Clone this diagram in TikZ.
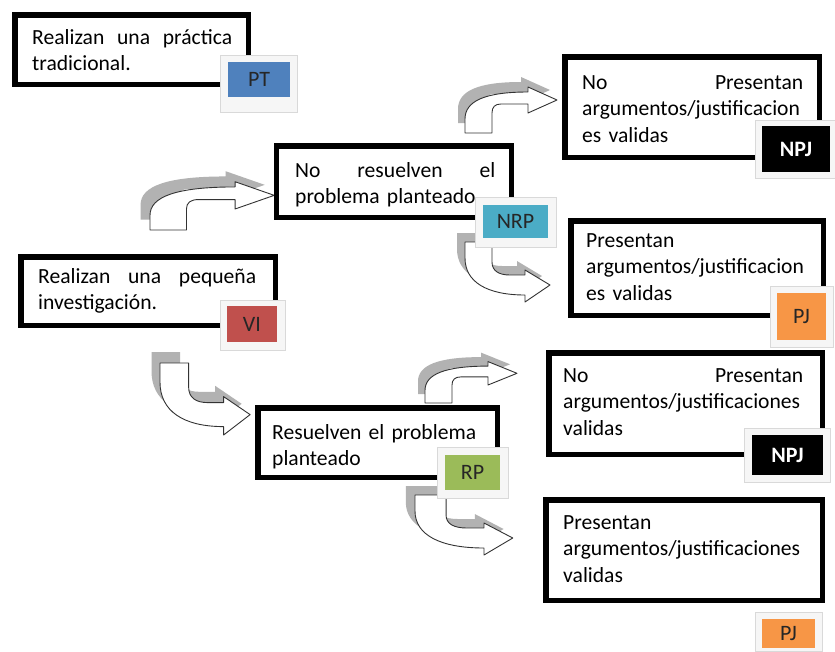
\documentclass[tikz,border=0pt]{standalone}
\usepackage{fontspec}
\setmainfont{Carlito}
\definecolor{ptblue}{HTML}{4F81BD}
\definecolor{nrpteal}{HTML}{4BACC6}
\definecolor{vired}{HTML}{C0504D}
\definecolor{rpgreen}{HTML}{9BBB59}
\definecolor{pjorange}{HTML}{F79646}
\begin{document}
\begin{tikzpicture}[x=1pt,y=-1pt,
  box/.style={draw=black, line width=5.5pt, fill=white, inner sep=0pt},
  txt/.style={anchor=north west, inner sep=0pt, align=left, font=\fontsize{21.6}{26.5}\selectfont},
  tagframe/.style={fill=gray!7, draw=gray!30, line width=0.6pt, inner sep=0pt},
  tagfill/.style={inner sep=0pt, font=\fontsize{22}{24}\selectfont, text=black!85},
  shadowcol/.style={fill=black!30},
  arrline/.style={draw=black!80, line width=0.9pt, fill=white, line join=round},
  uparr/.pic={
    \fill[shadowcol, shift={(-7,-10)}] (0,0) -- (0,-14) .. controls (0,-32) and (20,-41) .. (63,-41) -- (63,-46) -- (92,-33) -- (63,-20) -- (63,-29) -- (36,-29) .. controls (30,-29) and (27,-26) .. (27,-20) -- (27,0) -- cycle;
    \draw[arrline] (0,0) -- (0,-14) .. controls (0,-32) and (20,-41) .. (63,-41) -- (63,-46) -- (92,-33) -- (63,-20) -- (63,-29) -- (36,-29) .. controls (30,-29) and (27,-26) .. (27,-20) -- (27,0) -- cycle;
  },
  dnarr/.pic={
    \fill[shadowcol, shift={(-8,-9)}] (0,0) -- (27,0) -- (27,20) .. controls (27,29) and (34,33) .. (45,33) -- (60,33) -- (60,28) -- (85,43) -- (60,60) -- (60,53) .. controls (22,53) and (0,40) .. (0,16) -- cycle;
    \draw[arrline] (0,0) -- (27,0) -- (27,20) .. controls (27,29) and (34,33) .. (45,33) -- (60,33) -- (60,28) -- (85,43) -- (60,60) -- (60,53) .. controls (22,53) and (0,40) .. (0,16) -- cycle;
  },
]
\useasboundingbox[fill=white] (0,0) rectangle (835,651);

% arrows
\pic[xscale=1.35,yscale=1.05] (a1) at (150,230) {uparr};
\pic (a2) at (465,133) {uparr};
\pic[yscale=0.9] (a5) at (425,403) {uparr};
\pic (a3) at (465,242) {dnarr};
\pic[xscale=1.06,yscale=1.2] (a4) at (160,363) {dnarr};
\pic[xscale=1.15] (a6) at (415,495) {dnarr};

% boxes
\node[box, minimum width=233.5pt, minimum height=69.5pt] (bpt) at (131.5,49.5) {};
\node[box, minimum width=235pt, minimum height=71.5pt] (bnrp) at (394,181.5) {};
\node[box, minimum width=254.5pt, minimum height=68.5pt] (bvi) at (148,291) {};
\node[box, minimum width=239.5pt, minimum height=69.5pt] (brp) at (377.5,442.5) {};
\node[box, minimum width=254.5pt, minimum height=100.5pt] (bnpj1) at (692,107) {};
\node[box, minimum width=252.5pt, minimum height=94.5pt] (bpj1) at (697,268) {};
\node[box, minimum width=273.5pt, minimum height=101.5pt] (bnpj2) at (685.5,403.5) {};
\node[box, minimum width=276.5pt, minimum height=100.5pt] (bpj2) at (684,550) {};

% texts
\node[txt, text width=200pt] (tpt) at (32,25.5) {\strut Realizan\hfill una\hfill práctica\\tradicional.};
\node[txt, text width=200pt] (tnrp) at (295,158.5) {\strut No\hfill resuelven\hfill el\\problema planteado};
\node[txt, text width=218pt] (tvi) at (38,264.5) {\strut Realizan\hfill una\hfill pequeña\\investigación.};
\node[txt, text width=210pt] (trp) at (272,420.5) {\strut Resuelven el problema\\planteado};
\node[txt, text width=221pt] (tnpj1) at (582,70.5) {\strut No\hfill Presentan\\argumentos/justificacion\\es validas};
\node[txt, text width=225pt] (tpj1) at (586,228.5) {\strut Presentan\\argumentos/justificacion\\es validas};
\node[txt, text width=240pt] (tnpj2) at (563,363.5) {\strut No\hfill Presentan\\argumentos/justificaciones\\validas};
\node[txt, text width=240pt] (tpj2) at (563,510.5) {\strut Presentan\\argumentos/justificaciones\\validas};

% tags
\node[tagframe, minimum width=77pt, minimum height=57pt] (fpt) at (258.5,83.5) {};
\node[tagfill, fill=ptblue, minimum width=62pt, minimum height=35pt] (pt) at (259,79.5) {PT};
\node[tagframe, minimum width=81pt, minimum height=50pt] (fnrp) at (515.5,222) {};
\node[tagfill, fill=nrpteal, minimum width=65pt, minimum height=33pt] (nrp) at (515.5,221.5) {NRP};
\node[tagframe, minimum width=65pt, minimum height=50pt] (fvi) at (252.5,325) {};
\node[tagfill, fill=vired, minimum width=50pt, minimum height=36pt] (vi) at (252,324) {VI};
\node[tagframe, minimum width=71pt, minimum height=51pt] (frp) at (472.5,472.5) {};
\node[tagfill, fill=rpgreen, minimum width=55pt, minimum height=35pt] (rp) at (472.5,472.5) {RP};
\node[tagframe, minimum width=80pt, minimum height=58pt] (fnpj1) at (795,149) {};
\node[tagfill, fill=black, text=white, font=\fontsize{22}{24}\selectfont\bfseries, minimum width=68pt, minimum height=46pt] (npj1) at (796,149) {NPJ};
\node[tagframe, minimum width=63pt, minimum height=61pt] (fpj1) at (801.5,316.5) {};
\node[tagfill, fill=pjorange, minimum width=49pt, minimum height=47pt] (pj1) at (801.5,316.5) {PJ};
\node[tagframe, minimum width=86pt, minimum height=54pt] (fnpj2) at (787,455) {};
\node[tagfill, fill=black, text=white, font=\fontsize{22}{24}\selectfont\bfseries, minimum width=71pt, minimum height=40pt] (npj2) at (787.5,455) {NPJ};
\node[tagframe, minimum width=67pt, minimum height=39pt] (fpj2) at (788.5,631.5) {};
\node[tagfill, fill=pjorange, minimum width=53pt, minimum height=29pt] (pj2) at (788.5,633.5) {PJ};
\end{tikzpicture}
\end{document}
